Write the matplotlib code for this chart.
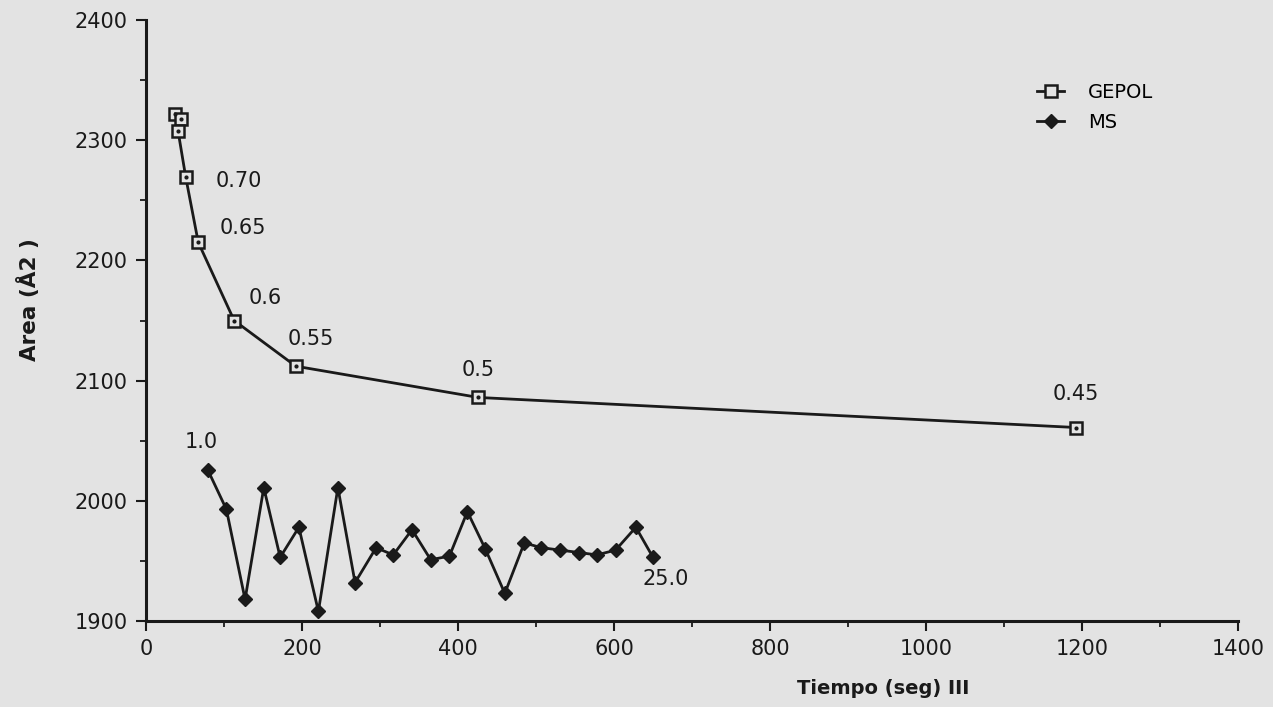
import matplotlib
matplotlib.use("Agg")
import matplotlib.pyplot as plt
from matplotlib.lines import Line2D
from matplotlib.ticker import MultipleLocator

# GEPOL: computing time vs. surface area for decreasing sphere size
gepol_t = [37, 45, 41, 51, 67, 113, 192, 426, 1192]
gepol_area = [2322, 2318, 2308, 2269, 2215, 2150, 2112, 2086, 2061]
gepol_labels = {3: "0.70", 4: "0.65", 5: "0.6", 6: "0.55", 7: "0.5", 8: "0.45"}

# MS: 25 runs from parameter 1.0 to 25.0
ms_t = [79, 103, 127, 151, 172, 196, 221, 246, 268, 295, 317, 341, 365,
        389, 412, 435, 460, 485, 507, 531, 555, 578, 602, 628, 650]
ms_area = [2026, 1993, 1918, 2011, 1953, 1978, 1908, 2011, 1932, 1961, 1955,
           1976, 1951, 1954, 1991, 1960, 1923, 1965, 1961, 1959, 1957, 1955,
           1959, 1978, 1953]

x_ticks = [0, 200, 400, 600, 800, 1000, 1200, 1400]
y_ticks = [1900, 2000, 2100, 2200, 2300, 2400]

bg = "#e3e3e3"
ink = "#1a1a1a"

fig = plt.figure(figsize=(12.73, 7.07), dpi=100, facecolor=bg)
ax = fig.add_axes([0.1147, 0.1216, 0.8578, 0.8501], facecolor=bg)

# GEPOL series: open squares with a centre dot
ax.plot(gepol_t, gepol_area, color=ink, lw=2.0, marker="s", ms=8.5,
        mfc=bg, mec=ink, mew=1.8, zorder=3)
ax.plot(gepol_t, gepol_area, ls="none", marker="o", ms=2, color=ink, zorder=4)

# MS series: filled diamonds
ax.plot(ms_t, ms_area, color=ink, lw=2.0, marker="D", ms=7.5,
        mfc=ink, mec=ink, zorder=3)

# point annotations (offsets in data units)
offsets = {3: (38, -3), 4: (28, 12), 5: (18, 19), 6: (-10, 23),
           7: (-21, 23), 8: (-30, 28)}
for i, txt in gepol_labels.items():
    dx, dy = offsets[i]
    ax.text(gepol_t[i] + dx, gepol_area[i] + dy, txt, fontsize=15,
            color=ink, va="center", ha="left")
ax.text(ms_t[0] - 30, ms_area[0] + 23, "1.0", fontsize=15, color=ink,
        va="center", ha="left")
ax.text(ms_t[-1] - 13, ms_area[-1] - 18, "25.0", fontsize=15, color=ink,
        va="center", ha="left")

ax.set_xlim(0, 1400)
ax.set_ylim(1900, 2400)
ax.set_xticks(x_ticks)
ax.set_yticks(y_ticks)
ax.xaxis.set_minor_locator(MultipleLocator(100))
ax.yaxis.set_minor_locator(MultipleLocator(50))
ax.tick_params(axis="both", which="major", direction="out", length=7,
               width=1.5, color=ink, labelsize=15, labelcolor=ink, pad=6)
ax.tick_params(axis="both", which="minor", direction="out", length=4,
               width=1.3, color=ink)

for side in ("top", "right"):
    ax.spines[side].set_visible(False)
for side in ("left", "bottom"):
    ax.spines[side].set_linewidth(2.2)
    ax.spines[side].set_color(ink)

ax.set_xlabel("Tiempo (seg) III", fontsize=14, fontweight="bold", color=ink)
ax.set_ylabel("Area (Å2 )", fontsize=15.5, fontweight="bold", color=ink)
ax.xaxis.set_label_coords(0.675, -0.097)
ax.yaxis.set_label_coords(-0.097, 0.535)

handles = [
    Line2D([], [], color=ink, lw=2, marker="s", ms=8, mfc=bg, mec=ink, mew=1.8),
    Line2D([], [], color=ink, lw=2, marker="D", ms=7, mfc=ink, mec=ink),
]
ax.legend(handles, ["GEPOL", "MS"], loc="upper left",
          bbox_to_anchor=(0.80, 0.925), frameon=False, fontsize=14,
          handlelength=1.4, handletextpad=1.2, labelspacing=0.6)

fig.savefig("out.png", dpi=100, facecolor=bg)
